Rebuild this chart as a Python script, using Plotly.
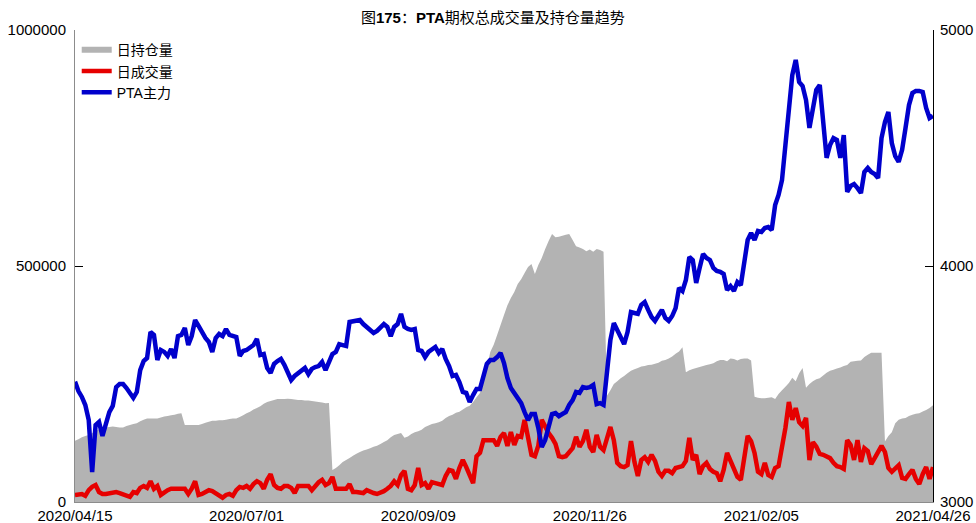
import pandas as pd
import plotly.graph_objects as go

# 交易日（剔除节假日）
holidays = [
    "2020-05-01", "2020-05-04", "2020-05-05", "2020-06-25", "2020-06-26",
    "2020-10-01", "2020-10-02", "2020-10-05", "2020-10-06", "2020-10-07", "2020-10-08",
    "2021-01-01", "2021-02-11", "2021-02-12", "2021-02-15", "2021-02-16", "2021-02-17",
    "2021-04-05",
]
dates = [d.strftime("%Y/%m/%d") for d in pd.bdate_range("2020-04-15", "2021-04-26")
         if d.strftime("%Y-%m-%d") not in holidays]

tick_dates = ["2020/04/15", "2020/07/01", "2020/09/09", "2020/11/26", "2021/02/05", "2021/04/26"]

# 日持仓量
holding = [
    130000, 133000, 137000, 140000, 142000, 146000, 150000, 154000, 156000, 158000,
    159000, 160000, 159000, 158000, 158000, 161000, 163000, 165000, 167000, 171000,
    174000, 177000, 177000, 177000, 177000, 179000, 181000, 182000, 184000, 185000,
    187000, 188000, 163000, 163000, 163000, 163000, 163000, 165000, 168000, 170000,
    172000, 172000, 173000, 173000, 174000, 176000, 177000, 177000, 180000, 184000,
    188000, 191000, 196000, 199000, 203000, 208000, 212000, 214000, 216000, 218000,
    218000, 218000, 219000, 218000, 217000, 216000, 216000, 215000, 215000, 214000,
    213000, 212000, 211000, 209000, 210000, 68000, 72000, 78000, 85000, 89000,
    93000, 98000, 102000, 106000, 109000, 111000, 114000, 117000, 119000, 123000,
    127000, 131000, 137000, 142000, 144000, 146000, 136000, 139000, 144000, 148000,
    150000, 153000, 159000, 162000, 165000, 167000, 169000, 172000, 178000, 182000,
    185000, 189000, 191000, 196000, 201000, 204000, 212000, 222000, 231000, 258000,
    284000, 318000, 333000, 354000, 375000, 396000, 417000, 432000, 445000, 462000,
    472000, 485000, 498000, 504000, 483000, 502000, 517000, 536000, 553000, 568000,
    561000, 562000, 564000, 566000, 568000, 555000, 542000, 539000, 536000, 531000,
    535000, 530000, 536000, 534000, 530000, 225000, 237000, 250000, 256000, 262000,
    267000, 273000, 278000, 281000, 284000, 287000, 288000, 290000, 291000, 293000,
    295000, 299000, 301000, 304000, 308000, 314000, 319000, 328000, 275000, 279000,
    282000, 284000, 286000, 288000, 290000, 292000, 294000, 298000, 301000, 301000,
    298000, 304000, 303000, 300000, 303000, 304000, 304000, 300000, 223000, 221000,
    220000, 220000, 221000, 222000, 218000, 229000, 237000, 244000, 252000, 263000,
    256000, 273000, 284000, 242000, 250000, 256000, 260000, 262000, 268000, 274000,
    278000, 280000, 283000, 285000, 288000, 290000, 297000, 298000, 299000, 300000,
    307000, 312000, 316000, 316000, 316000, 316000, 128000, 140000, 148000, 167000,
    174000, 177000, 178000, 182000, 185000, 187000, 188000, 192000, 195000, 199000,
    205000,
]

# 日成交量
volume = [
    15000, 17000, 17000, 13000, 25000, 32000, 36000, 21000, 17000, 17000,
    19000, 21000, 21000, 19000, 17000, 13000, 11000, 21000, 19000, 30000,
    34000, 30000, 44000, 28000, 34000, 15000, 21000, 25000, 28000, 28000,
    28000, 30000, 28000, 17000, 28000, 44000, 15000, 17000, 21000, 25000,
    23000, 19000, 13000, 9000, 15000, 17000, 13000, 25000, 32000, 30000,
    34000, 28000, 38000, 44000, 40000, 28000, 47000, 59000, 36000, 30000,
    28000, 34000, 34000, 30000, 19000, 34000, 34000, 34000, 34000, 25000,
    34000, 42000, 47000, 36000, 40000, 53000, 28000, 28000, 28000, 28000,
    38000, 21000, 21000, 21000, 19000, 25000, 21000, 19000, 17000, 19000,
    23000, 28000, 34000, 44000, 36000, 57000, 66000, 28000, 25000, 36000,
    72000, 36000, 40000, 28000, 42000, 40000, 38000, 36000, 55000, 68000,
    66000, 49000, 72000, 89000, 74000, 55000, 40000, 97000, 104000, 131000,
    131000, 129000, 131000, 119000, 138000, 146000, 119000, 148000, 121000, 140000,
    138000, 174000, 131000, 100000, 97000, 119000, 174000, 157000, 146000, 136000,
    123000, 97000, 95000, 97000, 106000, 114000, 138000, 117000, 129000, 153000,
    117000, 106000, 142000, 117000, 110000, 136000, 159000, 131000, 83000, 76000,
    74000, 78000, 129000, 85000, 55000, 89000, 95000, 85000, 100000, 87000,
    64000, 55000, 66000, 66000, 61000, 72000, 74000, 76000, 87000, 136000,
    89000, 100000, 59000, 76000, 83000, 70000, 64000, 61000, 44000, 68000,
    104000, 87000, 76000, 53000, 47000, 93000, 140000, 129000, 104000, 64000,
    59000, 83000, 57000, 53000, 72000, 76000, 114000, 157000, 212000, 174000,
    199000, 169000, 161000, 178000, 89000, 127000, 117000, 102000, 100000, 97000,
    93000, 83000, 76000, 74000, 70000, 131000, 121000, 89000, 131000, 85000,
    114000, 108000, 80000, 93000, 106000, 119000, 106000, 72000, 64000, 72000,
    78000, 51000, 49000, 59000, 68000, 49000, 38000, 59000, 74000, 49000,
    74000,
]

# PTA主力
pta = [
    3510, 3470, 3445, 3411, 3347, 3127, 3326, 3339, 3280, 3326,
    3381, 3407, 3487, 3500, 3500, 3483, 3458, 3441, 3466, 3559,
    3597, 3610, 3720, 3708, 3602, 3644, 3636, 3619, 3648, 3610,
    3703, 3708, 3737, 3665, 3703, 3771, 3746, 3716, 3695, 3678,
    3636, 3695, 3712, 3703, 3733, 3708, 3703, 3699, 3619, 3640,
    3644, 3653, 3665, 3691, 3623, 3627, 3568, 3547, 3585, 3597,
    3606, 3581, 3551, 3517, 3534, 3547, 3555, 3568, 3542, 3564,
    3572, 3576, 3593, 3559, 3593, 3627, 3636, 3669, 3665, 3661,
    3763, 3767, 3771, 3771, 3754, 3742, 3725, 3716, 3725, 3742,
    3754, 3742, 3703, 3742, 3754, 3797, 3742, 3733, 3729, 3733,
    3644, 3640, 3614, 3636, 3644, 3657, 3631, 3648, 3606, 3576,
    3534, 3538, 3508, 3466, 3462, 3424, 3453, 3479, 3479, 3525,
    3585, 3602, 3602, 3614, 3631, 3589, 3525, 3483, 3462, 3436,
    3419, 3381, 3347, 3373, 3373, 3314, 3233, 3263, 3314, 3373,
    3377, 3364, 3373, 3381, 3411, 3432, 3466, 3462, 3487, 3483,
    3487, 3496, 3415, 3419, 3411, 3551, 3686, 3758, 3729, 3695,
    3669, 3720, 3805, 3801, 3797, 3835, 3847, 3814, 3784, 3767,
    3792, 3814, 3780, 3767, 3788, 3822, 3907, 3894, 3941, 4038,
    4025, 3928, 3992, 4051, 4034, 4025, 3992, 3979, 3975, 3966,
    3898, 3915, 3894, 3932, 3919, 4025, 4110, 4140, 4110, 4148,
    4144, 4161, 4165, 4153, 4258, 4301, 4364, 4513, 4661, 4809,
    4873, 4780, 4763, 4703, 4585, 4661, 4746, 4767, 4627, 4458,
    4513, 4542, 4534, 4458, 4555, 4314, 4339, 4347, 4330, 4309,
    4398, 4415, 4398, 4390, 4373, 4542, 4610, 4653, 4521, 4466,
    4441, 4492, 4585, 4682, 4733, 4742, 4742, 4737, 4670, 4627,
    4636,
]

FONT = "Liberation Sans, Arial, Noto Sans CJK SC, sans-serif"

fig = go.Figure()

fig.add_trace(go.Scatter(
    x=dates, y=holding, name="日持仓量", mode="none",
    fill="tozeroy", fillcolor="#b3b3b3",
))
fig.add_trace(go.Scatter(
    x=dates, y=volume, name="日成交量", mode="lines",
    line=dict(color="#e60000", width=4.5),
))
fig.add_trace(go.Scatter(
    x=dates, y=pta, name="PTA主力", mode="lines", yaxis="y2",
    line=dict(color="#0000cc", width=4.5),
))

fig.update_layout(
    width=976, height=523,
    margin=dict(l=75, r=43, t=30, b=21, autoexpand=False),
    paper_bgcolor="white", plot_bgcolor="white",
    font=dict(family=FONT, size=15, color="black"),
    title=dict(
        text="图<b>175</b>：<b>PTA</b>期权总成交量及持仓量趋势",
        x=0.505, xref="container", xanchor="center",
        y=0.966, yref="container", yanchor="middle",
        font=dict(size=15, color="black"),
    ),
    showlegend=True,
    legend=dict(
        x=0.002, y=0.991, xanchor="left", yanchor="top",
        bgcolor="rgba(0,0,0,0)", font=dict(size=14),
        itemwidth=30, tracegroupgap=0,
    ),
    xaxis=dict(
        type="category", categoryorder="array", categoryarray=dates,
        range=[0, len(dates) - 1], automargin=False,
        tickmode="array", tickvals=tick_dates, ticktext=tick_dates,
        ticks="", showline=True, linecolor="#8c8c8c", linewidth=1,
        showgrid=False, zeroline=False, tickangle=0,
    ),
    xaxis2=dict(
        matches="x", overlaying="x", side="top", anchor="y",
        type="category", categoryorder="array", categoryarray=dates,
        range=[0, len(dates) - 1], automargin=False,
        tickmode="array", tickvals=tick_dates, showticklabels=False,
        ticks="inside", ticklen=8, tickcolor="black",
        showline=True, linecolor="black", linewidth=1, showgrid=False,
    ),
    yaxis=dict(
        range=[0, 1000000], tickmode="array", automargin=False,
        tickvals=[0, 500000, 1000000], ticktext=["0", "500000", "1000000"],
        ticks="inside", ticklen=8, tickcolor="black", ticklabelstandoff=5,
        showline=True, linecolor="#8c8c8c", linewidth=1,
        showgrid=False, zeroline=False,
    ),
    yaxis2=dict(
        range=[3000, 5000], overlaying="y", side="right", automargin=False,
        tickmode="array", tickvals=[3000, 4000, 5000],
        ticks="inside", ticklen=8, tickcolor="black", ticklabelstandoff=3,
        showline=True, linecolor="black", linewidth=1,
        showgrid=False, zeroline=False,
    ),
)

# 去掉页面默认边距，让图表贴齐窗口；不显示工具栏
fig.write_html(
    "out.html",
    config={"displayModeBar": False},
    post_script="document.body.style.margin='0';",
)
